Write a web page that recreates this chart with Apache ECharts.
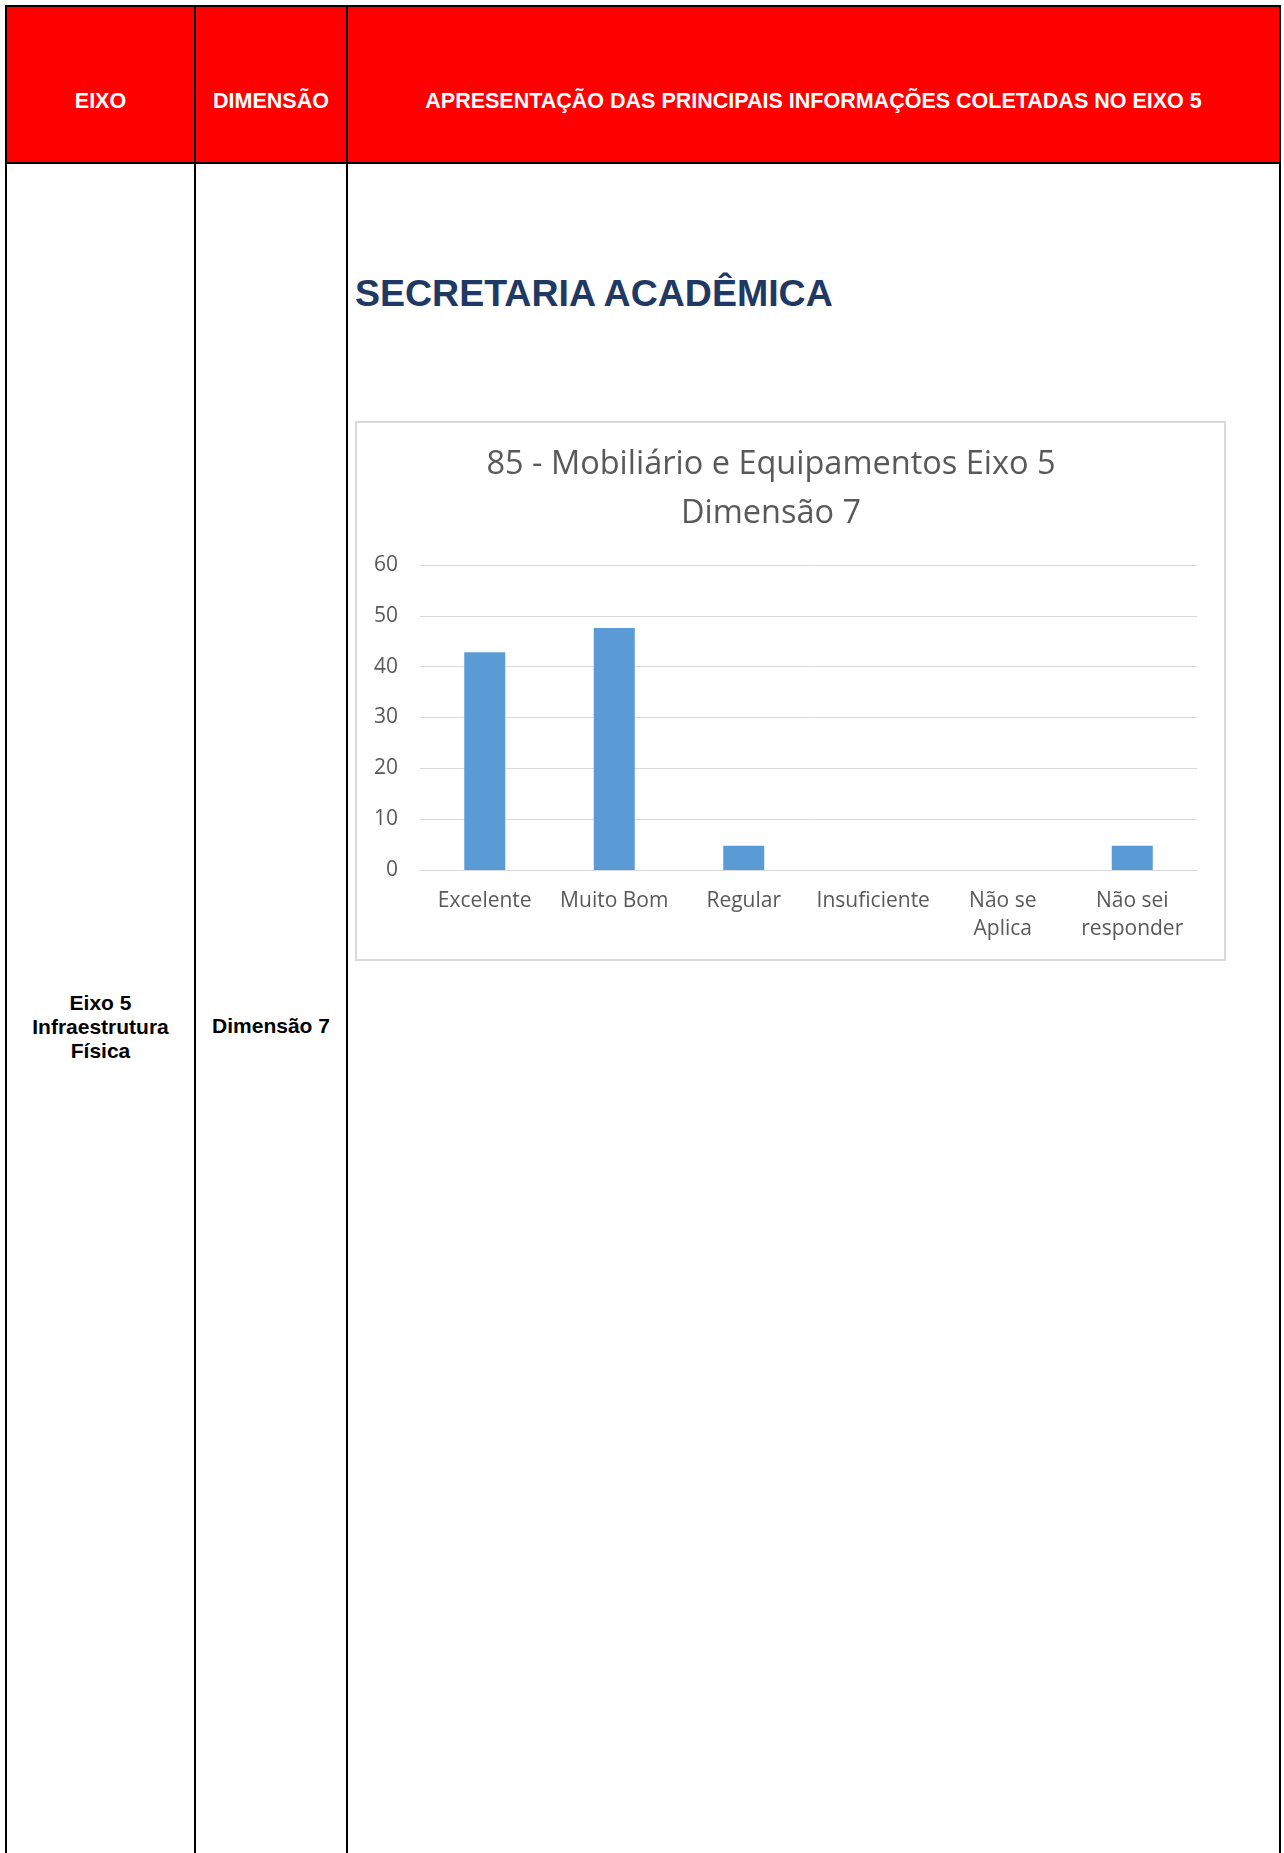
<!DOCTYPE html>
<html>
<head>
<meta charset="utf-8">
<script src="https://cdn.jsdelivr.net/npm/echarts@6/dist/echarts.min.js"></script>
<style>
  html, body { margin: 0; padding: 0; background: #fff; }
  body { width: 1284px; height: 1853px; position: relative; overflow: hidden; font-family: "Liberation Sans", Arial, sans-serif; }
  .abs { position: absolute; }
  .vline { position: absolute; top: 5px; height: 1848px; width: 2px; background: #000; }
  .htext { position: absolute; top: 91px; height: 21px; line-height: 21px; font-size: 21.5px; font-weight: bold; color: #fff; text-align: center; white-space: nowrap; }
  .btext { position: absolute; font-size: 21px; line-height: 24px; font-weight: bold; color: #000; text-align: center; }
</style>
</head>
<body>
  <div class="abs" style="left:5px;top:5px;width:1276px;height:159px;box-sizing:border-box;border:2px solid #000;background:#FF0000;"></div>
  <div class="vline" style="left:5px;"></div>
  <div class="vline" style="left:194px;"></div>
  <div class="vline" style="left:346px;"></div>
  <div class="vline" style="left:1279px;"></div>

  <div class="htext" style="left:7px;width:187px;">EIXO</div>
  <div class="htext" style="left:196px;width:150px;">DIMENSÃO</div>
  <div class="htext" style="left:348px;width:931px;">APRESENTAÇÃO DAS PRINCIPAIS INFORMAÇÕES COLETADAS NO EIXO 5</div>

  <div class="btext" style="left:7px;width:187px;top:991px;">Eixo 5<br>Infraestrutura<br>Física</div>
  <div class="btext" style="left:196px;width:150px;top:1014px;">Dimensão 7</div>

  <div class="abs" style="left:355px;top:275px;font-size:37.5px;line-height:37.5px;font-weight:bold;color:#1F3864;white-space:nowrap;">SECRETARIA ACADÊMICA</div>

  <div class="abs" style="left:355px;top:421px;width:871px;height:540px;box-sizing:border-box;border:2px solid #D9D9D9;"></div>

  <div id="chart" class="abs" style="left:0;top:0;width:1284px;height:1853px;z-index:2;"></div>

<script>
const chartTitle = "85 - Mobiliário e Equipamentos Eixo 5\nDimensão 7";
const categories = ["Excelente", "Muito Bom", "Regular", "Insuficiente", "Não se\nAplica", "Não sei\nresponder"];
const values = [42.86, 47.62, 4.76, 0, 0, 4.76];
const yMin = 0;
const yMax = 60;
const yStep = 10;

const chart = echarts.init(document.getElementById('chart'), null, { renderer: 'canvas' });
const font = '"Open Sans", "Noto Sans", sans-serif';
chart.setOption({
  animation: false,
  backgroundColor: 'transparent',
  title: {
    text: chartTitle,
    left: 771,
    top: 440,
    textAlign: 'center',
    padding: 0,
    textStyle: { fontFamily: font, fontSize: 32.5, fontWeight: 'normal', color: '#595959', lineHeight: 49 }
  },
  grid: { left: 420, top: 565, width: 777, height: 305, containLabel: false },
  xAxis: {
    type: 'category',
    data: categories,
    axisLine: { show: true, lineStyle: { color: '#D9D9D9', width: 1 } },
    axisTick: { show: false },
    axisLabel: { interval: 0, margin: 17, fontFamily: font, fontSize: 21, lineHeight: 28, color: '#595959' }
  },
  yAxis: {
    type: 'value',
    min: yMin,
    max: yMax,
    interval: yStep,
    axisLine: { show: false },
    axisTick: { show: false },
    splitLine: { show: true, lineStyle: { color: '#D9D9D9', width: 1 } },
    axisLabel: { margin: 22, fontFamily: font, fontSize: 21, color: '#595959' }
  },
  series: [{
    type: 'bar',
    data: values,
    barWidth: 41,
    itemStyle: { color: '#5B9BD5' }
  }]
});
</script>
</body>
</html>
